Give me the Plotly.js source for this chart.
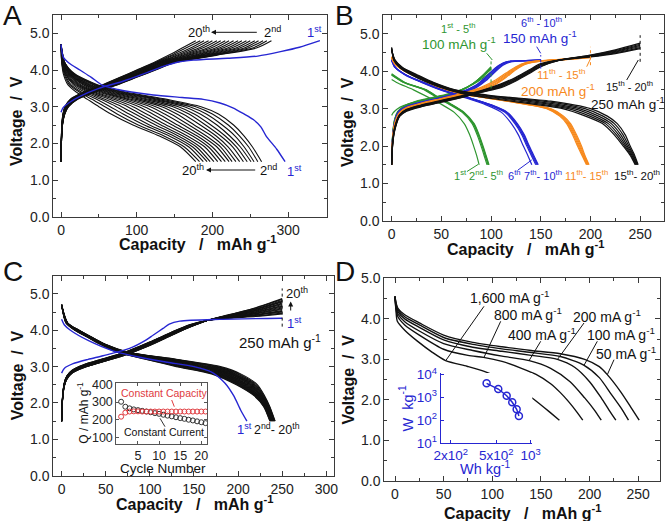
<!DOCTYPE html>
<html><head><meta charset="utf-8">
<script src="https://cdn.plot.ly/plotly-3.0.1.min.js"></script>
<style>html,body{margin:0;padding:0;background:#fff}#chart{width:667px;height:521px}</style>
</head><body><div id="chart"></div>
<script>
const W = 667, H = 521;
const FONT = 'Liberation Sans, Arial, sans-serif';
const BLK = '#111111', BLUE = '#2626d2', GREEN = '#2f9630', ORANGE = '#f7891c', RED = '#e03a3e';

// ================= Panel A : 20 cycles, constant current =================
const A_c1_chargeCap = [0,3,10,25,50,80,110,135,155,175,220,260,290,315,342];
const A_c1_chargeV   = [2.85,2.98,3.1,3.28,3.5,3.68,3.9,4.1,4.22,4.27,4.32,4.38,4.5,4.62,4.8];
const A_c1_dischargeCap = [0,3,10,25,40,55,75,93,122,160,188,210,227,242,254,264,271,285,296];
const A_c1_dischargeV   = [4.7,4.35,4.2,4.0,3.8,3.58,3.47,3.4,3.32,3.25,3.2,3.1,2.97,2.8,2.65,2.45,2.2,1.84,1.5];
// discharge: capacity reached at each voltage, cycles 2..20
const A_dischargeV = [4.7,4.2,3.9,3.6,3.4,3.2,3.0,2.8,2.5,2.2,1.9,1.5];
const A_dischargeCap = [
 [0,5,18,48,85,140,185,208,228,242,253,265],
 [0,5,17,46,81,134,178,200,221,236,248,260],
 [0,5,16,44,78,128,170,192,213,230,242,255],
 [0,4,16,42,74,123,163,184,206,223,237,251],
 [0,4,15,39,71,117,155,176,198,217,232,246],
 [0,4,14,37,67,111,148,169,191,211,227,241],
 [0,4,13,35,63,105,140,161,184,205,221,236],
 [0,3,12,33,60,99,133,153,176,199,216,231],
 [0,3,11,31,56,93,125,145,169,192,211,226],
 [0,3,11,29,53,88,118,137,162,186,206,222],
 [0,3,10,26,49,82,110,129,154,180,200,217],
 [0,3,9,24,45,76,103,121,147,174,195,212],
 [0,2,8,22,42,70,95,113,139,167,190,207],
 [0,2,7,20,38,64,88,105,132,161,184,202],
 [0,2,6,18,35,58,80,98,125,155,179,197],
 [0,2,6,16,31,53,73,90,117,149,174,193],
 [0,1,5,13,27,47,65,82,110,143,169,188],
 [0,1,4,11,24,41,58,74,102,136,163,183],
 [0,1,3,9,20,35,50,66,95,130,158,178]];
// charge: capacity reached at each voltage, cycles 2..20
const A_chargeV = [1.5,2.0,2.5,2.8,3.0,3.2,3.4,3.6,3.8,4.0,4.2,4.4,4.6,4.8];
const A_chargeCap = [
 [0,0.5,2,5,10,22,45,75,100,125,150,205,258,278],
 [0,0.5,1.9,4.9,9.7,21,44,74,99,124,148,202,253,272],
 [0,0.5,1.9,4.7,9.4,21,43,73,98,122,147,198,247,267],
 [0,0.5,1.8,4.6,9.2,20,43,72,96,121,145,195,242,261],
 [0,0.5,1.8,4.4,8.9,20,42,71,95,119,144,191,236,256],
 [0,0.4,1.7,4.3,8.6,19,41,69,94,118,142,188,231,250],
 [0,0.4,1.7,4.2,8.3,19,40,68,93,117,141,184,225,245],
 [0,0.4,1.6,4,8.1,18,39,67,91,115,139,181,220,239],
 [0,0.4,1.6,3.9,7.8,18,38,66,90,114,138,177,214,234],
 [0,0.4,1.5,3.8,7.5,17,38,65,89,113,136,174,209,228],
 [0,0.4,1.4,3.6,7.2,16,37,64,88,111,134,170,204,222],
 [0,0.4,1.4,3.5,6.9,16,36,63,87,110,133,167,198,217],
 [0,0.4,1.3,3.3,6.7,15,35,62,85,108,131,163,193,211],
 [0,0.4,1.3,3.2,6.4,15,34,61,84,107,130,160,187,206],
 [0,0.3,1.2,3.1,6.1,14,33,59,83,106,128,156,182,200],
 [0,0.3,1.2,2.9,5.8,14,33,58,82,104,127,153,176,195],
 [0,0.3,1.1,2.8,5.6,13,32,57,80,103,125,149,171,189],
 [0,0.3,1.1,2.6,5.3,13,31,56,79,101,124,146,165,184],
 [0,0.3,1,2.5,5,12,30,55,78,100,122,142,160,178]];

// ================= Panel B : rate steps 100/150/200/250 mAh g-1 =================
const B_green_chargeCap = [0,1,3,6,12,25,40,55,70,82,92,100];
const B_green_chargeV = [
 [2.82,2.87,2.93,3.0,3.08,3.19,3.27,3.36,3.5,3.65,3.82,3.98],
 [1.5,2.3,2.72,2.92,3.06,3.2,3.29,3.38,3.5,3.66,3.86,4.05],
 [1.5,2.28,2.7,2.9,3.05,3.19,3.28,3.37,3.5,3.67,3.88,4.08],
 [1.5,2.26,2.68,2.89,3.04,3.18,3.27,3.36,3.49,3.67,3.89,4.1],
 [1.5,2.24,2.66,2.88,3.03,3.17,3.26,3.35,3.48,3.67,3.9,4.12]];
const B_green_dischargeStart = [3.78,3.9,3.9,3.92,3.93];
const B_green_dischargeV = [3.7,3.5,3.3,3.1,2.9,2.6,2.3,2.0,1.75,1.5];
const B_green_dischargeCap = [
 [5,22,37,51,63,73,78.5,82.5,85.5,88],
 [12,33,45,59,71,81,86,90,93,96],
 [12.5,34,46,60,72,82,87,91,94,97],
 [13,34.5,46.5,60.5,72.5,82.5,87.5,91.5,94.5,97.5],
 [13.5,35,47,61,73,83,88,92,95,98]];

const B_blue_chargeCap = [0,1,3,7,15,30,50,70,85,95,104,112,120,135,150];
const B_blue_chargeV = [
 [1.5,2.25,2.65,2.93,3.06,3.18,3.3,3.45,3.63,3.85,4.08,4.22,4.27,4.28,4.29],
 [1.5,2.22,2.62,2.91,3.05,3.17,3.29,3.44,3.62,3.84,4.07,4.21,4.27,4.28,4.29],
 [1.5,2.2,2.6,2.9,3.04,3.16,3.28,3.42,3.6,3.81,4.04,4.2,4.26,4.28,4.29],
 [1.5,2.18,2.58,2.88,3.03,3.15,3.27,3.41,3.58,3.78,4.01,4.18,4.26,4.28,4.3],
 [1.5,2.16,2.56,2.87,3.02,3.14,3.26,3.4,3.56,3.75,3.98,4.16,4.25,4.28,4.3]];
const B_blue_dischargeStart = [4.28,4.3,4.3,4.31,4.32];
const B_blue_dischargeV = [4.1,3.9,3.7,3.5,3.3,3.1,2.9,2.6,2.3,2.0,1.75,1.5];
const B_blue_dischargeCap = [
 [3.3,13.5,30,49,73,95,110.5,120.5,127.5,132.5,137,141],
 [3.5,14,31,50,75,98,114,124,131,136,140.5,145],
 [3.6,14.2,31.3,50.5,75.8,99,115,125,132,137,141.5,146],
 [3.7,14.4,31.6,51,76.5,99.8,115.8,125.8,132.8,137.8,142.3,146.8],
 [3.8,14.6,32,51.5,77,100.5,116.5,126.5,133.5,138.5,143,147.5]];

const B_orange_chargeCap = [0,1,3,8,15,30,50,70,90,105,115,125,135,150,175,200];
const B_orange_chargeV = [
 [1.5,2.2,2.6,2.9,3.03,3.15,3.27,3.4,3.57,3.77,3.95,4.12,4.23,4.28,4.31,4.36],
 [1.5,2.18,2.58,2.89,3.02,3.14,3.26,3.39,3.55,3.74,3.92,4.1,4.22,4.28,4.31,4.37],
 [1.5,2.16,2.56,2.88,3.01,3.13,3.25,3.38,3.53,3.71,3.89,4.08,4.21,4.28,4.32,4.38],
 [1.5,2.14,2.54,2.87,3.0,3.12,3.24,3.37,3.51,3.68,3.86,4.06,4.2,4.27,4.32,4.39],
 [1.5,2.12,2.52,2.86,2.99,3.11,3.23,3.36,3.49,3.65,3.83,4.04,4.19,4.27,4.33,4.4]];
const B_orange_dischargeStart = [4.35,4.36,4.37,4.38,4.39];
const B_orange_dischargeV = [4.2,4.0,3.8,3.6,3.4,3.2,3.0,2.8,2.6,2.3,2.0,1.75,1.5];
const B_orange_dischargeCap = [
 [3,13,29,45,69,116,156,169,176,182,187,191.5,196],
 [3,13.3,29.5,45.5,69.8,117,157,170,177,183,188,192.3,196.7],
 [3.1,13.6,30,46,70.5,118,158,171,178,184,189,193,197.3],
 [3.1,13.9,30.5,46.5,71.2,119,159,172,179,185,190,193.8,198],
 [3.2,14.2,31,47,72,120,160,173,180,186,191,194.5,198.6]];

const B_black_chargeCap = [0,1,3,8,15,30,50,70,90,110,125,138,150,170,200,225,250];
const B_black_chargeV = [
 [1.5,2.12,2.5,2.84,2.98,3.1,3.22,3.34,3.48,3.66,3.84,4.03,4.2,4.3,4.38,4.47,4.6],
 [1.5,2.1,2.48,2.83,2.97,3.09,3.21,3.33,3.47,3.64,3.82,4.01,4.18,4.3,4.39,4.49,4.63],
 [1.5,2.08,2.46,2.82,2.96,3.08,3.2,3.32,3.46,3.62,3.8,3.99,4.17,4.3,4.4,4.51,4.66],
 [1.5,2.06,2.44,2.81,2.95,3.07,3.19,3.31,3.45,3.6,3.78,3.97,4.15,4.3,4.41,4.53,4.69],
 [1.5,2.04,2.42,2.8,2.94,3.06,3.18,3.3,3.44,3.58,3.76,3.95,4.13,4.3,4.42,4.55,4.72],
 [1.5,2.02,2.4,2.79,2.93,3.05,3.17,3.29,3.43,3.56,3.74,3.93,4.12,4.3,4.43,4.57,4.75]];
const B_black_dischargeStart = [4.55,4.57,4.59,4.6,4.62,4.64];
const B_black_dischargeV = [4.3,4.1,3.9,3.7,3.5,3.35,3.2,3.0,2.8,2.6,2.3,2.0,1.75,1.5];
const B_black_dischargeCap = [
 [3.5,11,26,42,64,100,160,200,217,227,235,240,244.5,248],
 [3.2,10.4,24.8,40.8,62.6,96,152,194.4,212.6,224,232.8,238.6,243.6,247.4],
 [2.9,9.8,23.6,39.6,61.2,92,144,188.8,208.2,221,230.6,237.2,242.7,246.8],
 [2.6,9.2,22.4,38.4,59.8,88,136,183.2,203.8,218,228.4,235.8,241.8,246.2],
 [2.3,8.6,21.2,37.2,58.4,84,128,177.6,199.4,215,226.2,234.4,240.9,245.6],
 [2,8,20,36,57,80,120,172,195,212,224,233,240,245]];
// capacity cut-off markers (dotted)
const B_cutCap = [100,150,200,250];
const B_cutVlo = [3.54,4.07,4.16,4.25];
const B_cutVhi = [4.29,4.43,4.65,4.96];

// ================= Panel C : constant capacity 250 mAh g-1 =================
const C_c1_chargeCap = [0,3,13,30,47,77,95,104,115,122,134,179,250];
const C_c1_chargeV   = [2.82,2.95,3.08,3.2,3.3,3.5,3.72,3.87,4.05,4.17,4.25,4.3,4.33];
const C_c1_dischargeCap = [0,3,10,30,60,90,120,150,170,185,195,203,210];
const C_c1_dischargeV   = [4.3,4.15,4.0,3.72,3.42,3.25,3.12,3.0,2.85,2.55,2.2,1.8,1.5];
const C_chargeCap = [0,1,3,6,12,25,45,70,100,125,145,165,190,220,250];
const C_chargeV = [ // cycles 2..20
 [1.5,2.15,2.55,2.75,2.9,3.05,3.2,3.38,3.68,3.95,4.15,4.27,4.33,4.38,4.45],
 [1.5,2.14,2.54,2.74,2.9,3.05,3.2,3.38,3.67,3.95,4.15,4.27,4.34,4.39,4.47],
 [1.5,2.14,2.54,2.74,2.89,3.04,3.19,3.37,3.67,3.94,4.14,4.27,4.34,4.41,4.5],
 [1.5,2.13,2.53,2.73,2.89,3.04,3.19,3.37,3.66,3.94,4.14,4.27,4.35,4.42,4.52],
 [1.5,2.13,2.53,2.73,2.88,3.03,3.18,3.36,3.66,3.93,4.13,4.27,4.35,4.43,4.54],
 [1.5,2.12,2.52,2.72,2.88,3.03,3.18,3.36,3.65,3.93,4.13,4.27,4.36,4.45,4.57],
 [1.5,2.12,2.52,2.72,2.87,3.02,3.17,3.35,3.65,3.92,4.13,4.27,4.36,4.46,4.59],
 [1.5,2.11,2.51,2.71,2.87,3.02,3.17,3.35,3.64,3.91,4.12,4.27,4.37,4.47,4.61],
 [1.5,2.11,2.51,2.71,2.86,3.01,3.16,3.34,3.64,3.91,4.12,4.27,4.37,4.49,4.64],
 [1.5,2.1,2.5,2.7,2.86,3.01,3.16,3.34,3.63,3.91,4.12,4.27,4.38,4.5,4.66],
 [1.5,2.09,2.49,2.69,2.86,3.01,3.16,3.34,3.62,3.9,4.11,4.27,4.39,4.51,4.68],
 [1.5,2.09,2.49,2.69,2.85,3.0,3.15,3.33,3.62,3.9,4.11,4.27,4.39,4.53,4.71],
 [1.5,2.08,2.48,2.68,2.85,3.0,3.15,3.33,3.61,3.89,4.1,4.27,4.4,4.54,4.73],
 [1.5,2.08,2.48,2.68,2.84,2.99,3.14,3.32,3.61,3.89,4.1,4.27,4.4,4.55,4.75],
 [1.5,2.07,2.47,2.67,2.84,2.99,3.14,3.32,3.6,3.88,4.1,4.27,4.41,4.57,4.78],
 [1.5,2.07,2.47,2.67,2.83,2.98,3.13,3.31,3.6,3.88,4.09,4.27,4.41,4.58,4.8],
 [1.5,2.06,2.46,2.66,2.83,2.98,3.13,3.31,3.59,3.87,4.09,4.27,4.42,4.59,4.82],
 [1.5,2.06,2.46,2.66,2.82,2.97,3.12,3.3,3.59,3.87,4.08,4.27,4.42,4.61,4.85],
 [1.5,2.05,2.45,2.65,2.82,2.97,3.12,3.3,3.58,3.86,4.08,4.27,4.43,4.62,4.87]];
const C_dischargeV = [4.7,4.2,4.0,3.8,3.6,3.4,3.2,3.0,2.8,2.5,2.2,1.9,1.5];
const C_dischargeCap = [ // cycles 2..20
 [0,7,20,35,51,75,130,180,203,222,230,236,242],
 [0,6.9,19.7,34.7,50.7,74.3,128.1,177.2,201.2,220.7,229.3,235.6,241.7],
 [0,6.8,19.4,34.4,50.3,73.6,126.1,174.4,199.3,219.3,228.7,235.2,241.3],
 [0,6.7,19.2,34.2,50,72.8,124.2,171.7,197.5,218,228,234.8,241],
 [0,6.6,18.9,33.9,49.7,72.1,122.2,168.9,195.7,216.7,227.3,234.4,240.7],
 [0,6.4,18.6,33.6,49.3,71.4,120.3,166.1,193.8,215.3,226.7,234.1,240.3],
 [0,6.3,18.3,33.3,49,70.7,118.3,163.3,192,214,226,233.7,240],
 [0,6.2,18.1,33.1,48.7,69.9,116.4,160.6,190.2,212.7,225.3,233.3,239.7],
 [0,6.1,17.8,32.8,48.3,69.2,114.4,157.8,188.3,211.3,224.7,232.9,239.3],
 [0,6,17.5,32.5,48,68.5,112.5,155,186.5,210,224,232.5,239],
 [0,5.9,17.2,32.2,47.7,67.8,110.6,152.2,184.7,208.7,223.3,232.1,238.7],
 [0,5.8,16.9,31.9,47.3,67.1,108.6,149.4,182.8,207.3,222.7,231.7,238.3],
 [0,5.7,16.7,31.7,47,66.3,106.7,146.7,181,206,222,231.3,238],
 [0,5.6,16.4,31.4,46.7,65.6,104.7,143.9,179.2,204.7,221.3,230.9,237.7],
 [0,5.4,16.1,31.1,46.3,64.9,102.8,141.1,177.3,203.3,220.7,230.6,237.3],
 [0,5.3,15.8,30.8,46,64.2,100.8,138.3,175.5,202,220,230.2,237],
 [0,5.2,15.6,30.6,45.7,63.4,98.9,135.6,173.7,200.7,219.3,229.8,236.7],
 [0,5.1,15.3,30.3,45.3,62.7,96.9,132.8,171.8,199.3,218.7,229.4,236.3],
 [0,5,15,30,45,62,95,130,170,198,218,229,236]];
const C_cutCap = [250];
const C_cutV = [4.1,5.15];
// inset: capacity vs cycle number
const C_cycle = [1,2,3,4,5,6,7,8,9,10,11,12,13,14,15,16,17,18,19,20,21];
const C_qConstCapacity = [218,241,247,248,248,247,247,247,247,247,247,247,247,247,247,247,247,247,247,247,247];
const C_qConstCurrent  = [302,274,265,259,255,251,247,243,238,234,229,224,220,215,210,206,201,197,192,187,182];

// ================= Panel D : rate capability =================
const D_rates = ['1,600','800','400','200','100','50'];
const D_cap = [
 [0,1,2.4,10,23,38,52,74,91,110,126,143,160,169],
 [0,1,3,10,25,50,75,91,110,130,145,160,170,178,187,193],
 [0,1,3,10,25,50,80,110,138,160,180,195,205,212],
 [0,1,3,10,25,50,80,110,140,167,185,200,212,220,227],
 [0,1,3,10,25,50,80,110,140,170,194,210,222,233,240],
 [0,1,3,10,25,50,80,110,140,170,195,210,218,232,243,251]];
const D_volt = [
 [4.55,4.2,3.94,3.72,3.45,3.18,2.97,2.83,2.71,2.52,2.3,2.01,1.68,1.5],
 [4.55,4.25,4.05,3.85,3.6,3.25,3.1,3.05,2.95,2.78,2.63,2.4,2.18,1.97,1.7,1.5],
 [4.55,4.3,4.12,3.93,3.7,3.39,3.22,3.08,2.97,2.78,2.45,2.05,1.75,1.5],
 [4.55,4.35,4.18,4.0,3.79,3.48,3.3,3.2,3.1,3.0,2.8,2.45,2.05,1.75,1.5],
 [4.55,4.38,4.22,4.05,3.85,3.54,3.37,3.26,3.17,3.07,2.86,2.55,2.15,1.78,1.5],
 [4.55,4.4,4.26,4.1,3.9,3.6,3.42,3.31,3.22,3.14,3.0,2.82,2.63,2.2,1.8,1.5]];
// inset: Ragone plot
const D_energy = [412,521,617,690,754,789];
const D_power  = [4150,2330,1190,610,300,153];

// ================= build traces =================
const traces = [];
function ln(x, y, color, ax, width, dash) {
  traces.push({type:'scatter', mode:'lines', x:x, y:y, xaxis:'x'+ax, yaxis:'y'+ax,
    line:{color:color, width:width, shape:'spline', smoothing:0.7, dash:dash||'solid'},
    hoverinfo:'skip', showlegend:false});
}
// A
A_chargeCap.forEach(r => ln(r, A_chargeV, BLK, '', 1.1));
A_dischargeCap.forEach(r => ln(r, A_dischargeV, BLK, '', 1.1));
ln(A_c1_chargeCap, A_c1_chargeV, BLUE, '', 1.4);
ln(A_c1_dischargeCap, A_c1_dischargeV, BLUE, '', 1.4);
// B
const Bgroups = [
 [B_green_chargeCap,B_green_chargeV,B_green_dischargeStart,B_green_dischargeV,B_green_dischargeCap,GREEN],
 [B_blue_chargeCap,B_blue_chargeV,B_blue_dischargeStart,B_blue_dischargeV,B_blue_dischargeCap,BLUE],
 [B_orange_chargeCap,B_orange_chargeV,B_orange_dischargeStart,B_orange_dischargeV,B_orange_dischargeCap,ORANGE],
 [B_black_chargeCap,B_black_chargeV,B_black_dischargeStart,B_black_dischargeV,B_black_dischargeCap,BLK]];
Bgroups.forEach(g => {
  g[1].forEach(v => ln(g[0], v, g[5], '2', 1.2));
  g[4].forEach((c, i) => ln([0].concat(c), [g[2][i]].concat(g[3]), g[5], '2', 1.2));
});
const Bcol = [GREEN, BLUE, ORANGE, BLK];
B_cutCap.forEach((c, i) => ln([c, c], [B_cutVlo[i], B_cutVhi[i]], Bcol[i], '2', 1, 'dot'));
// C
C_chargeV.forEach(v => ln(C_chargeCap, v, BLK, '3', 1.1));
C_dischargeCap.forEach(r => ln(r, C_dischargeV, BLK, '3', 1.1));
ln(C_c1_chargeCap, C_c1_chargeV, BLUE, '3', 1.4);
ln(C_c1_dischargeCap, C_c1_dischargeV, BLUE, '3', 1.4);
ln([C_cutCap[0], C_cutCap[0]], C_cutV, BLK, '3', 1, 'dot');
traces.push({type:'scatter', mode:'markers', x:C_cycle, y:C_qConstCurrent, xaxis:'x5', yaxis:'y5',
  marker:{symbol:'circle-open', size:5, color:'#333', line:{width:1}}, hoverinfo:'skip', showlegend:false});
traces.push({type:'scatter', mode:'markers', x:C_cycle, y:C_qConstCapacity, xaxis:'x5', yaxis:'y5',
  marker:{symbol:'circle-open', size:5, color:RED, line:{width:1}}, hoverinfo:'skip', showlegend:false});
// D
D_cap.forEach((c, i) => ln(c, D_volt[i], BLK, '4', 1.4));
traces.push({type:'scatter', mode:'lines+markers', x:D_energy, y:D_power, xaxis:'x6', yaxis:'y6',
  line:{color:BLUE, width:1.5}, marker:{symbol:'circle-open', size:7, color:BLUE, line:{width:1.5}},
  hoverinfo:'skip', showlegend:false});

// ================= layout =================
const px = v => v / W, py = v => 1 - v / H;
const FR = '#3a3a3a';
function mainAx(dom, range, dtick, minor, anchor, fmt) {
  const a = {domain:dom, range:range, dtick:dtick, tick0:0, anchor:anchor, showline:true, mirror:'allticks',
    linecolor:FR, linewidth:1, ticks:'inside', ticklen:5, tickwidth:1, tickcolor:FR, showgrid:false,
    zeroline:false, fixedrange:true, tickfont:{family:FONT, size:14, color:'#222'},
    minor:{ticks:'inside', ticklen:3, dtick:minor, tick0:0, tickcolor:FR, showgrid:false}};
  if (fmt) a.tickformat = fmt;
  return a;
}
function insetAx(dom, range, anchor, vals) {
  return {domain:dom, range:range, anchor:anchor, tickvals:vals, showline:true, mirror:'allticks',
    linecolor:'#555', ticks:'inside', ticklen:3, tickcolor:'#555', showgrid:false, zeroline:false,
    fixedrange:true, tickfont:{family:FONT, size:12.5, color:'#222'}};
}
function logAx(dom, range, anchor, vals, texts) {
  return {domain:dom, type:'log', range:range, anchor:anchor, tickvals:vals, ticktext:texts,
    showline:true, mirror:false, linecolor:BLUE, ticks:'inside', ticklen:3, tickcolor:BLUE,
    showgrid:false, zeroline:false, fixedrange:true, tickfont:{family:FONT, size:13.5, color:BLUE}};
}
const layout = {
  width:W, height:H, margin:{l:0, r:0, t:0, b:0}, paper_bgcolor:'#fff', plot_bgcolor:'#fff',
  showlegend:false, font:{family:FONT},
  xaxis:  mainAx([px(53.3), px(326.7)], [-10.2, 351], 100, 50, 'y'),
  yaxis:  mainAx([py(216.7), py(15)], [0, 5.5], 1, 0.5, 'x', '.1f'),
  xaxis2: mainAx([px(383.3), px(664.3)], [-8.4, 274.3], 50, 25, 'y2'),
  yaxis2: mainAx([py(221), py(15)], [0, 5.5], 1, 0.5, 'x2', '.1f'),
  xaxis3: mainAx([px(53.3), px(334)], [-9.4, 308.7], 50, 25, 'y3'),
  yaxis3: mainAx([py(475.7), py(275.7)], [0, 5.5], 1, 0.5, 'x3', '.1f'),
  xaxis4: mainAx([px(384.3), px(660)], [-11, 272.4], 50, 25, 'y4'),
  yaxis4: mainAx([py(481), py(278.3)], [0, 5], 1, 0.5, 'x4', '.1f'),
  xaxis5: insetAx([px(116.3), px(207)], [-0.14, 21.35], 'y5', [5,10,15,20]),
  yaxis5: insetAx([py(444.3), py(383.3)], [63, 405.6], 'x5', [100,200,300,400]),
  xaxis6: logAx([px(440.7), px(532.3)], [2.214, 3.014], 'y6', [200,500,1000],
    ['2x10<sup>2</sup>','5x10<sup>2</sup>','10<sup>3</sup>']),
  yaxis6: logAx([py(443), py(373)], [1, 4.07], 'x6', [10,100,1000,10000],
    ['10<sup>1</sup>','10<sup>2</sup>','10<sup>3</sup>','10<sup>4</sup>']),
  annotations:[], shapes:[]
};
function txt(s, x, y, size, color, extra) {
  layout.annotations.push(Object.assign({text:s, x:px(x), y:py(y), xref:'paper', yref:'paper', showarrow:false,
    xanchor:'center', yanchor:'middle', font:{family:FONT, size:size, color:color || '#111'}}, extra || {}));
}
function arrow(hx, hy, tx, ty) {
  layout.annotations.push({text:'', x:px(hx), y:py(hy), xref:'paper', yref:'paper', showarrow:true,
    ax:tx - hx, ay:ty - hy, arrowhead:2, arrowsize:1, arrowwidth:1, arrowcolor:'#111'});
}
function seg(x0, y0, x1, y1, color) {
  layout.shapes.push({type:'line', xref:'paper', yref:'paper', x0:px(x0), y0:py(y0), x1:px(x1), y1:py(y1),
    line:{color:color || '#111', width:1}});
}
const NB = '\u00a0';
const capTitle = '<b>Capacity' + NB+NB+NB + '/' + NB+NB+NB + 'mAh g<sup>-1</sup></b>';
const voltTitle = '<b>Voltage' + NB+NB + '/' + NB+NB + 'V</b>';
// panel letters
txt('A', 12.5, 15, 28); txt('B', 344, 15, 28); txt('C', 12.5, 271, 28); txt('D', 345, 271, 28);
// axis titles
txt(capTitle, 197.5, 243, 16); txt(voltTitle, 17.3, 120.8, 16, null, {textangle:-90});
txt(capTitle, 525.8, 247.5, 16); txt(voltTitle, 347.5, 122.5, 16, null, {textangle:-90});
txt(capTitle, 195, 502.5, 16);   txt(voltTitle, 17.5, 375.8, 16, null, {textangle:-90});
txt(capTitle, 522.5, 511.5, 16); txt(voltTitle, 347.5, 380, 16, null, {textangle:-90});
// A labels
txt('20<sup>th</sup>', 199, 32, 13); txt('2<sup>nd</sup>', 272.5, 32, 13); txt('1<sup>st</sup>', 314, 32, 13, BLUE);
arrow(211, 32.3, 258.3, 32.3);
txt('20<sup>th</sup>', 193, 170, 13); txt('2<sup>nd</sup>', 268, 170, 13); txt('1<sup>st</sup>', 294, 171, 13, BLUE);
arrow(206, 170, 256.7, 170);
// B labels
txt('1<sup>st</sup> - 5<sup>th</sup>', 458, 28.5, 11, GREEN); txt('100 mAh g<sup>-1</sup>', 459, 43.5, 13.5, GREEN);
txt('6<sup>th</sup> - 10<sup>th</sup>', 541, 22.5, 11, BLUE); txt('150 mAh g<sup>-1</sup>', 540, 36.5, 13.5, BLUE);
txt('11<sup>th</sup> - 15<sup>th</sup>', 560.5, 73.5, 11.5, ORANGE); txt('200 mAh g<sup>-1</sup>', 557.5, 90, 13.5, ORANGE);
txt('15<sup>th</sup> - 20<sup>th</sup>', 629, 86, 11); txt('250 mAh g<sup>-1</sup>', 627.5, 103.5, 13.5);
txt('1<sup>st</sup>', 460, 175, 11, GREEN); txt('2<sup>nd</sup>- 5<sup>th</sup>', 486.5, 175, 11, GREEN);
txt('6<sup>th</sup>', 514, 175, 11, BLUE); txt('7<sup>th</sup>- 10<sup>th</sup>', 543, 175, 11, BLUE);
txt('11<sup>th</sup>- 15<sup>th</sup>', 586.7, 175, 11, ORANGE); txt('15<sup>th</sup>- 20<sup>th</sup>', 637, 175, 11.5);
seg(486.7, 53.3, 492.3, 60, GREEN); seg(536.7, 46.7, 540.7, 53.3, BLUE);
seg(586.7, 66.7, 590.7, 58.3, ORANGE); seg(626.7, 80, 638.3, 60, BLK);
seg(467, 171.5, 478, 164.5, GREEN); seg(518, 170, 531.7, 160, BLUE);
// C labels
txt('20<sup>th</sup>', 297, 292.7, 13); txt('1<sup>st</sup>', 294, 323, 13, BLUE);
arrow(290.7, 301.5, 290.7, 312);
txt('250 mAh g<sup>-1</sup>', 279.7, 341.8, 15);
txt('1<sup>st</sup>', 244.7, 429.3, 13, BLUE); txt('2<sup>nd</sup>- 20<sup>th</sup>', 277.2, 429.3, 12.5);
txt('Constant Capacity', 164.2, 393.3, 10.5, RED); txt('Constant Current', 164.2, 431.7, 10.5);
seg(171.7, 400, 174.3, 406.7, RED); seg(165, 426.7, 160, 418.3, '#333');
txt('Q / mAh g<sup>-1</sup>', 83, 412.7, 12, null, {textangle:-90});
txt('Cycle Number', 163, 468.5, 13.5);
// D labels
const Dlab = [[510,297],[527.5,314],[542,334],[606.5,315.5],[620.5,334],[625.5,352.5]];
D_rates.forEach((r, i) => txt(r + ' mA g<sup>-1</sup>', Dlab[i][0], Dlab[i][1], 14));
seg(484,306.3,445.7,360.7); seg(500.7,321.3,484,357.3); seg(540.7,341.3,529,360.7);
seg(584,323,557.3,359.7); seg(597.3,341.3,584,365.3); seg(614,359.7,607.3,374.7);
txt('W' + NB + ' kg<sup>-1</sup>', 406.5, 409, 14.5, BLUE, {textangle:-90});
txt('Wh kg<sup>-1</sup>', 485, 468, 14.5, BLUE);

Plotly.newPlot('chart', traces, layout, {staticPlot:true, displayModeBar:false});
</script></body></html>
